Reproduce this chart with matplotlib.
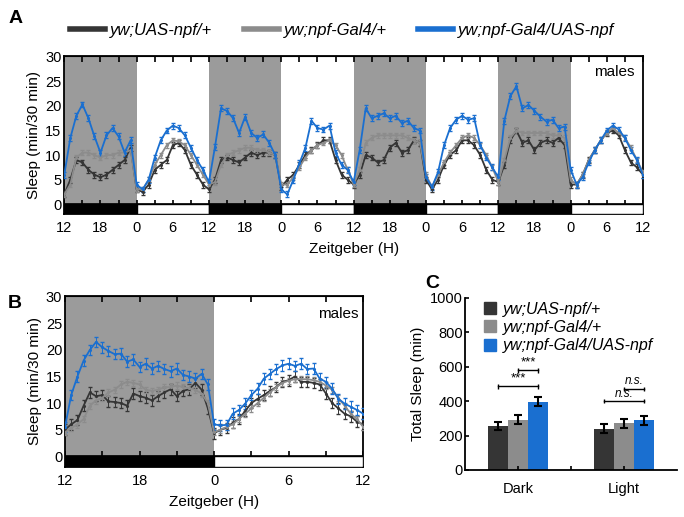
import numpy as np
import matplotlib
matplotlib.use("Agg")
from matplotlib import pyplot as plt
from matplotlib.patches import Rectangle

plt.rcParams['font.family'] = ['Liberation Sans', 'DejaVu Sans']

# ---- data ----
genotypes = ['yw;UAS-npf/+', 'yw;npf-Gal4/+', 'yw;npf-Gal4/UAS-npf']
colors = ['#353535', '#8c8c8c', '#1a6fd0']

# Panel A: hourly sleep over 4 days, starting at ZT12
a_hours = np.arange(97)
a_uas = [2.0, 5.0, 9.0, 8.5, 7.0, 6.0, 5.5, 6.0, 7.0, 8.0, 9.0, 11.5, 3.0,
         2.5, 4.0, 7.0, 8.0, 9.0, 12.0, 12.5, 11.0, 8.0, 6.0, 4.0, 3.0,
         5.0, 9.0, 9.5, 9.0, 8.5, 9.5, 10.5, 10.0, 10.5, 10.5, 10.0, 3.5,
         5.0, 6.0, 8.0, 10.0, 11.0, 12.0, 13.0, 13.0, 9.0, 6.0, 5.0, 4.0,
         6.0, 10.0, 9.5, 8.5, 9.0, 11.5, 12.5, 10.5, 11.0, 13.0, 12.5, 5.0,
         3.0, 5.0, 8.0, 10.0, 11.0, 13.0, 13.0, 12.0, 10.0, 7.0, 5.0, 4.5,
         8.0, 13.0, 15.0, 12.5, 13.0, 11.0, 12.5, 13.0, 12.5, 13.5, 12.0, 4.0,
         4.0, 6.0, 9.0, 11.0, 13.0, 14.5, 15.0, 14.0, 11.0, 8.5, 7.5, 6.0]
a_gal4 = [2.0, 4.0, 9.5, 10.5, 10.5, 10.0, 9.5, 10.0, 10.0, 10.5, 10.5, 11.0, 3.0,
          3.0, 5.0, 8.0, 10.0, 12.0, 13.0, 12.8, 12.0, 10.0, 8.0, 6.0, 4.0,
          4.5, 8.0, 10.0, 10.5, 11.0, 11.5, 11.5, 11.0, 11.0, 10.5, 10.0, 4.0,
          4.0, 5.5, 7.5, 9.5, 11.0, 12.0, 12.5, 13.0, 12.0, 10.0, 7.0, 4.0,
          7.0, 12.5, 13.5, 14.0, 14.0, 14.0, 14.0, 14.0, 13.5, 13.0, 12.5, 6.0,
          3.5, 6.0, 8.5, 10.5, 12.0, 13.5, 14.0, 13.5, 12.0, 10.0, 7.5, 4.5,
          9.0, 13.5, 15.0, 14.5, 14.5, 14.5, 14.5, 14.5, 14.0, 14.0, 13.5, 5.0,
          4.0, 6.0, 9.0, 11.0, 13.0, 14.5, 15.5, 14.5, 13.5, 11.5, 9.0, 6.5]
a_npf = [6.0, 13.5, 18.0, 20.3, 17.5, 13.8, 10.5, 14.0, 15.5, 13.8, 10.5, 13.0, 4.0,
         3.0, 5.0, 9.5, 13.0, 15.0, 16.0, 15.5, 14.0, 11.5, 9.0, 7.0, 4.5,
         11.7, 19.5, 19.0, 17.5, 14.5, 17.8, 14.5, 13.5, 14.2, 12.5, 10.0, 3.0,
         2.0, 5.0, 8.3, 11.5, 17.0, 15.5, 15.2, 16.0, 10.5, 8.0, 7.0, 4.5,
         11.0, 19.5, 17.5, 18.0, 18.5, 17.5, 18.0, 16.5, 17.0, 15.5, 15.0, 5.5,
         3.5, 6.5, 12.0, 15.5, 17.2, 18.0, 17.2, 17.5, 12.0, 9.5, 7.5, 5.5,
         17.0, 22.0, 24.0, 19.5, 20.2, 19.0, 17.8, 16.8, 17.2, 15.5, 15.8, 7.0,
         4.0, 5.5, 8.5, 11.0, 13.0, 15.0, 16.0, 15.2, 13.5, 11.0, 9.0, 6.0]
a_sem = [0.6, 0.5, 0.6]

# Panel B: 30-min bins averaged over days, ZT12 -> ZT12
b_hours = np.arange(49) * 0.5
b_uas = [5.0, 6.0, 6.8, 9.5, 12.0, 11.3, 11.5, 10.3, 10.2, 10.0, 9.5, 11.8,
         11.3, 11.0, 10.5, 11.3, 12.0, 12.6, 11.3, 12.3, 12.6, 13.8, 12.5, 9.0,
         4.3, 5.0, 5.3, 6.3, 7.0, 8.5, 10.0, 10.8, 11.5, 12.3, 13.0, 14.0,
         14.3, 15.0, 14.0, 14.0, 13.8, 13.5, 11.8, 10.0, 9.0, 8.0, 7.5, 6.5, 6.0]
b_gal4 = [4.5, 5.3, 6.0, 7.0, 9.5, 10.5, 11.0, 12.0, 12.5, 13.5, 14.0, 13.8,
          13.5, 12.5, 12.3, 12.5, 13.0, 13.0, 13.3, 13.0, 12.8, 12.5, 11.8, 10.0,
          4.5, 5.0, 5.5, 6.0, 7.0, 8.0, 9.0, 10.0, 11.0, 12.0, 13.0, 13.8,
          14.2, 14.5, 14.5, 14.5, 14.3, 14.0, 13.3, 12.5, 11.0, 9.5, 8.0, 7.0, 5.5]
b_npf = [5.5, 11.5, 15.0, 18.0, 20.0, 21.5, 20.5, 19.8, 19.2, 19.3, 17.8, 18.2,
         16.8, 17.4, 16.5, 17.0, 16.4, 16.0, 16.5, 15.3, 15.0, 14.6, 15.5, 13.5,
         6.0, 5.8, 5.9, 8.0, 8.7, 9.9, 11.5, 12.7, 14.6, 15.5, 16.4, 17.1,
         17.4, 17.0, 17.4, 16.4, 16.5, 14.6, 14.0, 12.7, 10.8, 9.9, 9.3, 8.7, 8.0]
b_sem = [1.0, 0.6, 1.0]

# Panel C: total sleep
phases = ['Dark', 'Light']
c_uas = [255, 240]
c_gal4 = [293, 270]
c_npf = [397, 288]
c_uas_err = [25, 25]
c_gal4_err = [28, 28]
c_npf_err = [25, 28]

fig = plt.figure(figsize=(6.84, 5.17), dpi=100)


def sleep_panel(ax, x, series, sems, ndays):
    span = ndays * 24
    for d in range(ndays):
        ax.axvspan(d * 24, d * 24 + 12, color='#9b9b9b', lw=0, zorder=0)
        ax.add_patch(Rectangle((d * 24, -2.0), 12, 2.0, color='black', zorder=3))
        ax.add_patch(Rectangle((d * 24 + 12, -2.0), 12, 2.0, facecolor='white',
                               edgecolor='black', lw=1, zorder=3))
    ax.axhline(0, color='black', lw=1.2, zorder=4)
    tks = np.arange(0, span + 0.1, 3)
    ax.vlines(tks, 0, 0.9, color='black', lw=1.2, zorder=4)
    for y, s, c in zip(series, sems, colors):
        ax.errorbar(x, y, yerr=s, color=c, lw=1.3, marker='.', ms=2.5,
                    capsize=1.5, elinewidth=0.7, zorder=5)
    ax.set_xlim(0, span)
    ax.set_ylim(-2.0, 30.2)
    ax.set_yticks([0, 5, 10, 15, 20, 25, 30])
    ax.set_xticks(np.arange(0, span + 0.1, 6))
    ax.set_xticklabels([['12', '18', '0', '6'][i % 4] for i in range(ndays * 4 + 1)])
    ax.tick_params(axis='x', length=0, labelsize=10.5, pad=5)
    ax.tick_params(axis='y', length=0, labelsize=10.5, pad=2)
    top = ax.secondary_xaxis('top')
    top.set_xticks(tks, labels=[])
    top.tick_params(direction='in', length=4, width=1.2)
    for sp in ax.spines.values():
        sp.set_linewidth(1.3)
    ax.set_xlabel('Zeitgeber (H)', fontsize=11, labelpad=5)
    ax.set_ylabel('Sleep (min/30 min)', fontsize=11, labelpad=3)
    ax.text(0.985, 0.87, 'males', transform=ax.transAxes, ha='right', fontsize=11, zorder=6)


# Panel A
axA = fig.add_axes([0.094, 0.586, 0.846, 0.306])
sleep_panel(axA, a_hours, [a_uas, a_gal4, a_npf], a_sem, 4)

# Panel B
axB = fig.add_axes([0.095, 0.097, 0.436, 0.331])
sleep_panel(axB, b_hours, [b_uas, b_gal4, b_npf], b_sem, 1)

# legend for A
handles = [plt.Line2D([], [], color=c, lw=4) for c in colors]
fig.legend(handles, genotypes, loc='upper left', bbox_to_anchor=(0.08, 0.985), ncol=3,
           frameon=False, handlelength=2.1, handletextpad=0.3, columnspacing=1.9,
           prop={'style': 'italic', 'size': 12})

# Panel C
axC = fig.add_axes([0.68, 0.091, 0.31, 0.333])
w = 0.19
centers = np.array([0.5, 1.5])
for off, vals, errs, c in zip([-w, 0, w], [c_uas, c_gal4, c_npf],
                              [c_uas_err, c_gal4_err, c_npf_err], colors):
    axC.bar(centers + off, vals, width=w, color=c)
    axC.errorbar(centers + off, vals, yerr=errs, fmt='none', ecolor='black',
                 elinewidth=1.5, capsize=3, capthick=1.5)
axC.set_xlim(0, 2)
axC.set_ylim(0, 1000)
axC.set_yticks([0, 200, 400, 600, 800, 1000])
axC.set_xticks([0.5, 1.0, 1.5])
axC.set_xticklabels(['Dark', '', 'Light'])
axC.tick_params(axis='both', direction='in', length=3, width=1.2, labelsize=10.5)
axC.tick_params(axis='y', pad=1.5)
axC.tick_params(axis='x', pad=9)
for k in ('top', 'right'):
    axC.spines[k].set_visible(False)
axC.spines['left'].set_linewidth(1.3)
axC.spines['bottom'].set_linewidth(1.3)
axC.set_ylabel('Total Sleep (min)', fontsize=11)


def bracket(ax, x1, x2, y, txt, italic=False):
    ax.plot([x1, x2], [y, y], color='black', lw=1)
    ax.vlines([x1, x2], y - 12, y + 12, color='black', lw=1)
    ax.text((x1 + x2) / 2, y + 10, txt, ha='center', va='bottom',
            fontsize=8.5 if italic else 9.5, style='italic' if italic else 'normal')


bracket(axC, 0.5 - w, 0.5 + w, 485, '***')
bracket(axC, 0.5, 0.5 + w, 578, '***')
bracket(axC, 1.5 - w, 1.5 + w, 398, 'n.s.', italic=True)
bracket(axC, 1.5, 1.5 + w, 472, 'n.s.', italic=True)

sq = [plt.Line2D([], [], color=c, marker='s', ls='', ms=8) for c in colors]
axC.legend(sq, genotypes, loc='upper left', bbox_to_anchor=(0.02, 1.06), frameon=False,
           handlelength=0.8, handletextpad=0.4, labelspacing=0.2,
           prop={'style': 'italic', 'size': 11.5})

# panel letters
fig.text(0.012, 0.955, 'A', fontsize=14, fontweight='bold')
fig.text(0.012, 0.405, 'B', fontsize=14, fontweight='bold')
fig.text(0.622, 0.443, 'C', fontsize=14, fontweight='bold')

fig.savefig('out.png', dpi=100)
